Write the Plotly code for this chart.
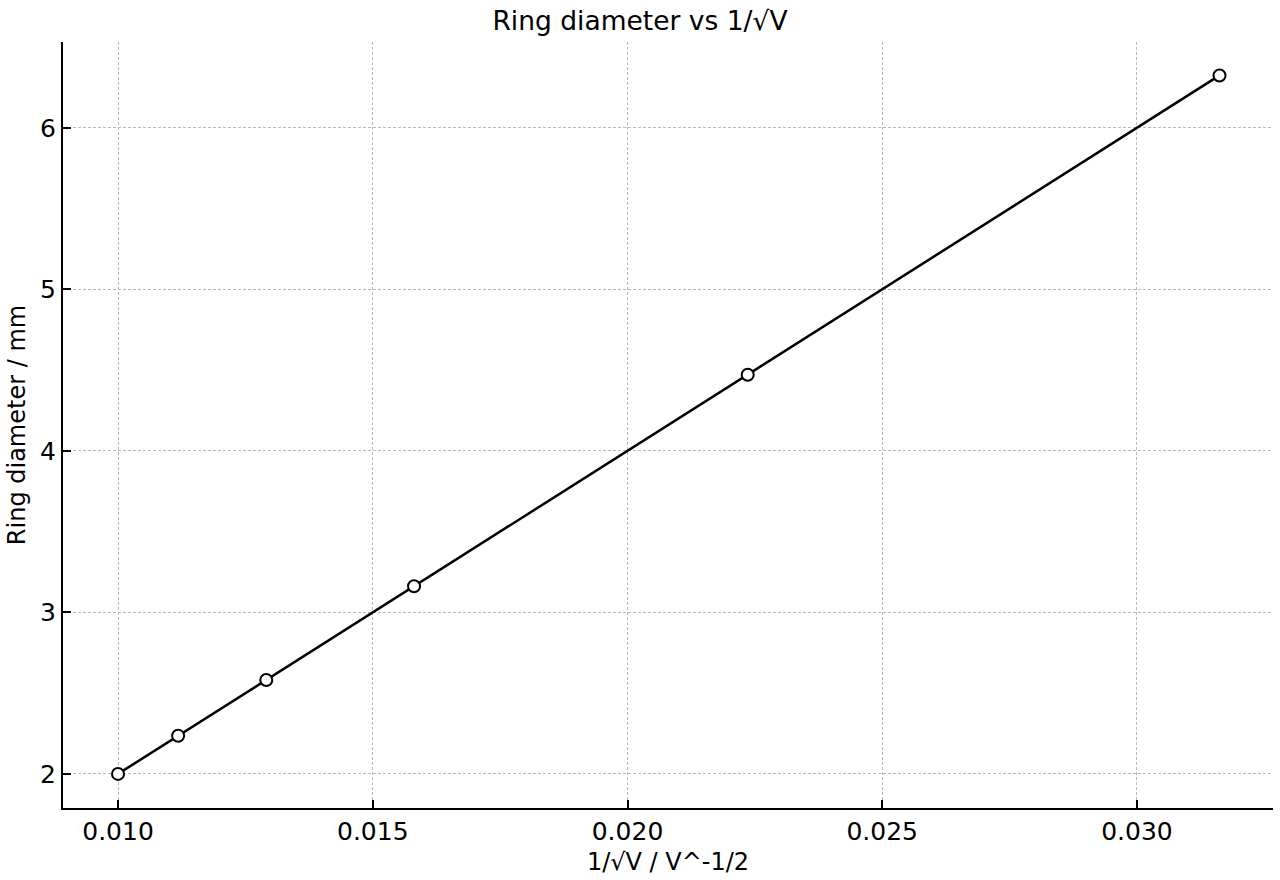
import plotly.graph_objects as go

inv_sqrt_v = [0.01, 0.01118, 0.01291, 0.01581, 0.02236, 0.03162]
diameter_mm = [2.0, 2.236, 2.582, 3.162, 4.472, 6.325]
x_ticks = [0.010, 0.015, 0.020, 0.025, 0.030]
x_tick_labels = ["0.010", "0.015", "0.020", "0.025", "0.030"]
y_ticks = [2, 3, 4, 5, 6]

FONT = "DejaVu Sans"

fig = go.Figure()
fig.add_trace(go.Scatter(
    x=inv_sqrt_v, y=diameter_mm, mode="lines+markers",
    line=dict(color="black", width=2.5),
    marker=dict(symbol="circle", size=12, color="white", line=dict(color="black", width=2)),
    showlegend=False,
))

axis_common = dict(
    showline=True, linecolor="black", linewidth=2,
    ticks="inside", ticklen=8, tickwidth=2, tickcolor="black",
    showgrid=True, gridcolor="#b8b8b8", griddash="3px,2px", gridwidth=1,
    zeroline=False, mirror=False,
    tickfont=dict(family=FONT, size=25, color="black"),
    title_font=dict(family=FONT, size=24, color="black"),
)

fig.update_layout(
    width=1280, height=880,
    margin=dict(l=63, r=7, t=42, b=72),
    paper_bgcolor="white", plot_bgcolor="white",
    font=dict(family=FONT, color="black"),
    title=dict(text="Ring diameter vs 1/√V", x=0.5, xanchor="center", y=0.977, yanchor="middle",
               font=dict(family=FONT, size=26.5, color="black")),
    xaxis=dict(range=[0.00892, 0.03267], tickvals=x_ticks, ticktext=x_tick_labels,
               title=dict(text="1/√V / V^-1/2", standoff=8), **axis_common),
    yaxis=dict(range=[1.789, 6.532], tickvals=y_ticks,
               title=dict(text="Ring diameter / mm", standoff=8), **axis_common),
)

fig.write_html("out.html")
